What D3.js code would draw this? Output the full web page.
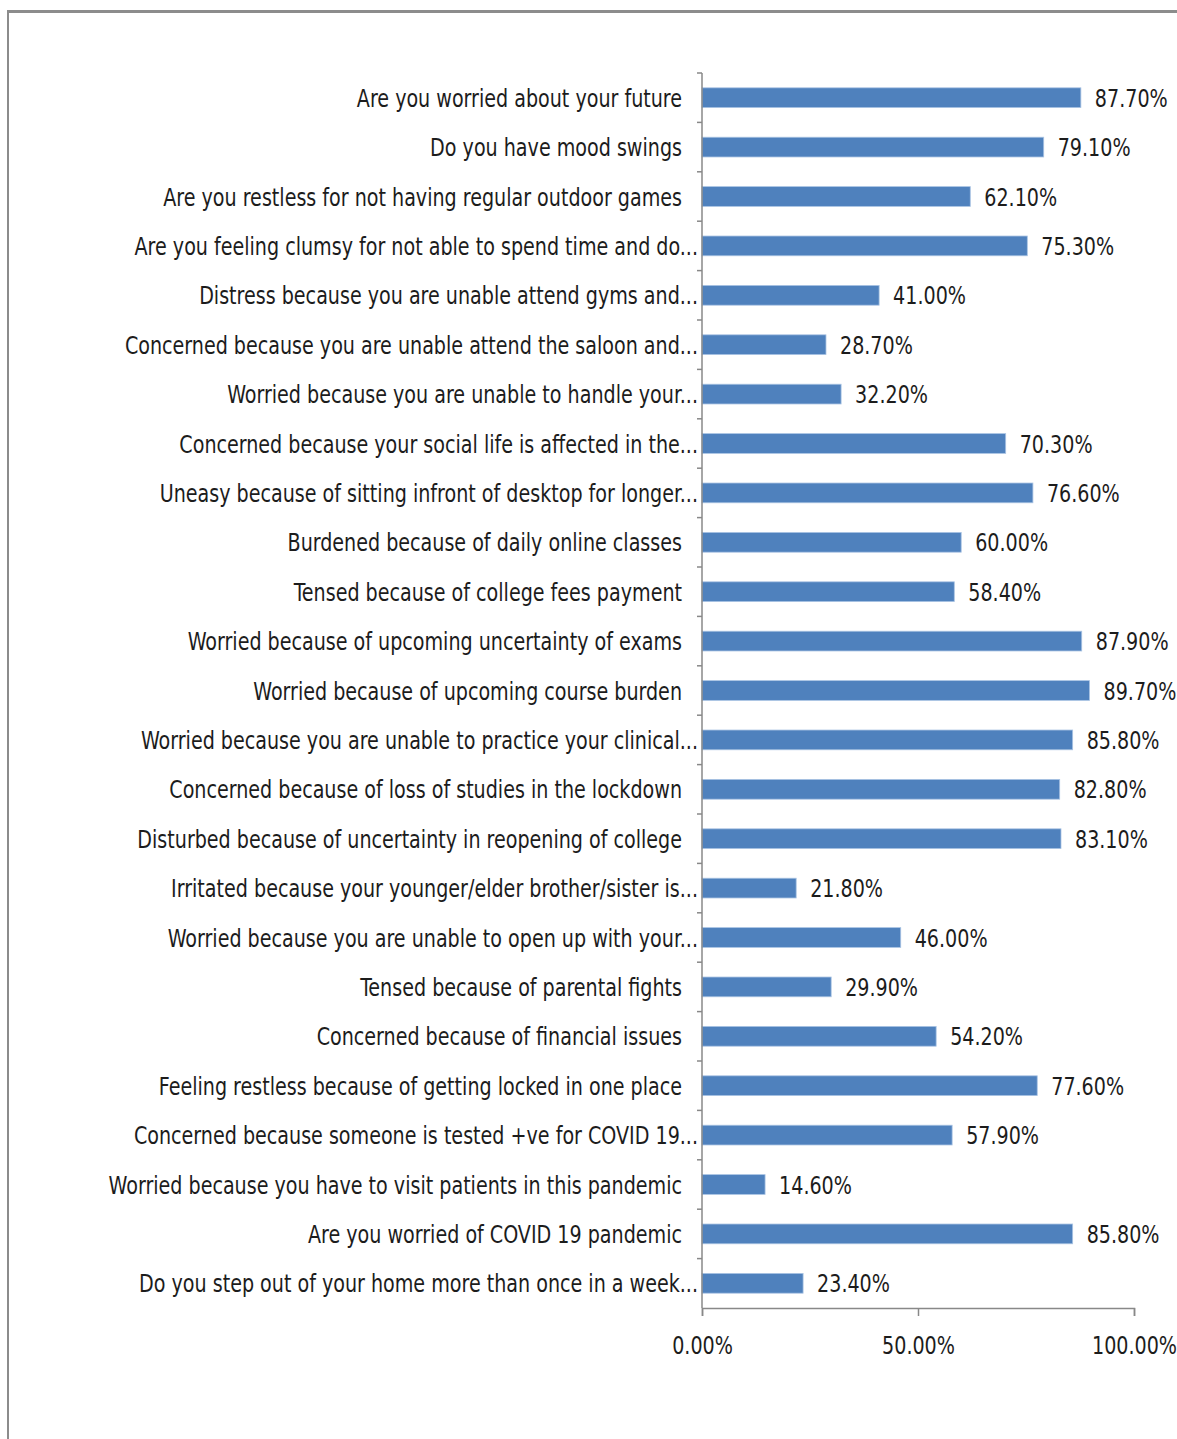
<!DOCTYPE html>
<html>
<head>
<meta charset="utf-8">
<script src="https://d3js.org/d3.v7.min.js"></script>
<style>
  body { margin: 0; background: #fff; }
  svg text { font-family: "Liberation Sans Narrow", "DejaVu Sans Condensed", "Roboto Condensed", sans-serif; fill: #1c1c1c; }
</style>
</head>
<body>
<svg id="chart" width="1177" height="1439"></svg>
<script>
const categories = [
  'Are you worried about your future',
  'Do you have mood swings',
  'Are you restless for not having regular outdoor games',
  'Are you feeling clumsy for not able to spend time and do...',
  'Distress because you are unable attend gyms and...',
  'Concerned because you are unable attend the saloon and...',
  'Worried because you are unable to handle your...',
  'Concerned because your social life is affected in the...',
  'Uneasy because of sitting infront of desktop for longer...',
  'Burdened because of daily online classes',
  'Tensed because of college fees payment',
  'Worried because of upcoming uncertainty of exams',
  'Worried because of upcoming course burden',
  'Worried because you are unable to practice your clinical...',
  'Concerned because of loss of studies in the lockdown',
  'Disturbed because of uncertainty in reopening of college',
  'Irritated because your younger/elder brother/sister is...',
  'Worried because you are unable to open up with your...',
  'Tensed because of parental fights',
  'Concerned because of financial issues',
  'Feeling restless because of getting locked in one place',
  'Concerned because someone is tested +ve for COVID 19...',
  'Worried because you have to visit patients in this pandemic',
  'Are you worried of COVID 19 pandemic',
  'Do you step out of your home more than once in a week...'
];
const values = [87.7, 79.1, 62.1, 75.3, 41.0, 28.7, 32.2, 70.3, 76.6, 60.0, 58.4, 87.9, 89.7,
  85.8, 82.8, 83.1, 21.8, 46.0, 29.9, 54.2, 77.6, 57.9, 14.6, 85.8, 23.4];
const xTicks = [0, 50, 100];

const data = categories.map((c, i) => ({ cat: c, val: values[i] }));

const svg = d3.select('#chart');

// frame lines from the scan
svg.append('line').attr('x1', 8).attr('x2', 1177).attr('y1', 11.5).attr('y2', 11.5)
  .attr('stroke', '#8c8c8c').attr('stroke-width', 3);
svg.append('line').attr('x1', 8).attr('x2', 8).attr('y1', 10).attr('y2', 1439)
  .attr('stroke', '#8c8c8c').attr('stroke-width', 2);

const plotLeft = 702, plotRight = 1134, plotTop = 73, plotBottom = 1308;

const x = d3.scaleLinear().domain([0, 100]).range([plotLeft, plotRight]);
const y = d3.scaleBand()
  .domain(categories)
  .range([plotTop, plotBottom])
  .paddingInner(0.6)
  .paddingOuter(0.3);

const fontSize = 25;
const squeeze = 0.85; // the original font is narrower than what we have

// bars
svg.append('g').selectAll('rect')
  .data(data)
  .enter()
  .append('rect')
  .attr('x', x(0))
  .attr('y', d => y(d.cat))
  .attr('width', d => x(d.val) - x(0))
  .attr('height', y.bandwidth())
  .attr('fill', '#4f81bd')
  .attr('stroke', '#a9c3e3')
  .attr('stroke-width', 0.8);

// value labels
svg.append('g').selectAll('text')
  .data(data)
  .enter()
  .append('text')
  .attr('transform', d => `translate(${x(d.val) + 14},${y(d.cat) + y.bandwidth() / 2}) scale(${squeeze},1)`)
  .attr('dy', '0.36em')
  .attr('font-size', fontSize)
  .text(d => d.val.toFixed(2) + '%');

// category axis, ticks sit between categories
const yAxis = svg.append('g').attr('transform', `translate(${plotLeft},0)`);
yAxis.append('line').attr('x1', 0).attr('x2', 0).attr('y1', plotTop).attr('y2', plotBottom)
  .attr('stroke', '#888').attr('stroke-width', 1.5);
yAxis.selectAll('line.tick')
  .data(d3.range(categories.length))
  .enter()
  .append('line')
  .attr('class', 'tick')
  .attr('x1', -5).attr('x2', 0)
  .attr('y1', i => y(categories[i]) - y.step() * 0.3)
  .attr('y2', i => y(categories[i]) - y.step() * 0.3)
  .attr('stroke', '#888').attr('stroke-width', 1.5);

yAxis.selectAll('text')
  .data(categories)
  .enter()
  .append('text')
  .attr('transform', d => `translate(${d.endsWith('...') ? -4 : -20},${y(d) + y.bandwidth() / 2}) scale(${squeeze},1)`)
  .attr('dy', '0.36em')
  .attr('text-anchor', 'end')
  .attr('font-size', fontSize)
  .text(d => d);

// value axis
const xAxis = svg.append('g')
  .attr('transform', `translate(0,${plotBottom})`)
  .call(d3.axisBottom(x).tickValues(xTicks).tickSize(8).tickPadding(20)
    .tickFormat(d => d.toFixed(2) + '%'));
xAxis.select('.domain').attr('stroke', '#888').attr('stroke-width', 1.5);
xAxis.selectAll('.tick line').attr('stroke', '#888').attr('stroke-width', 1.5);
xAxis.selectAll('.tick text')
  .attr('font-size', fontSize)
  .attr('font-family', null)
  .attr('fill', '#1c1c1c')
  .attr('transform', `scale(${squeeze},1)`);
</script>
</body>
</html>
